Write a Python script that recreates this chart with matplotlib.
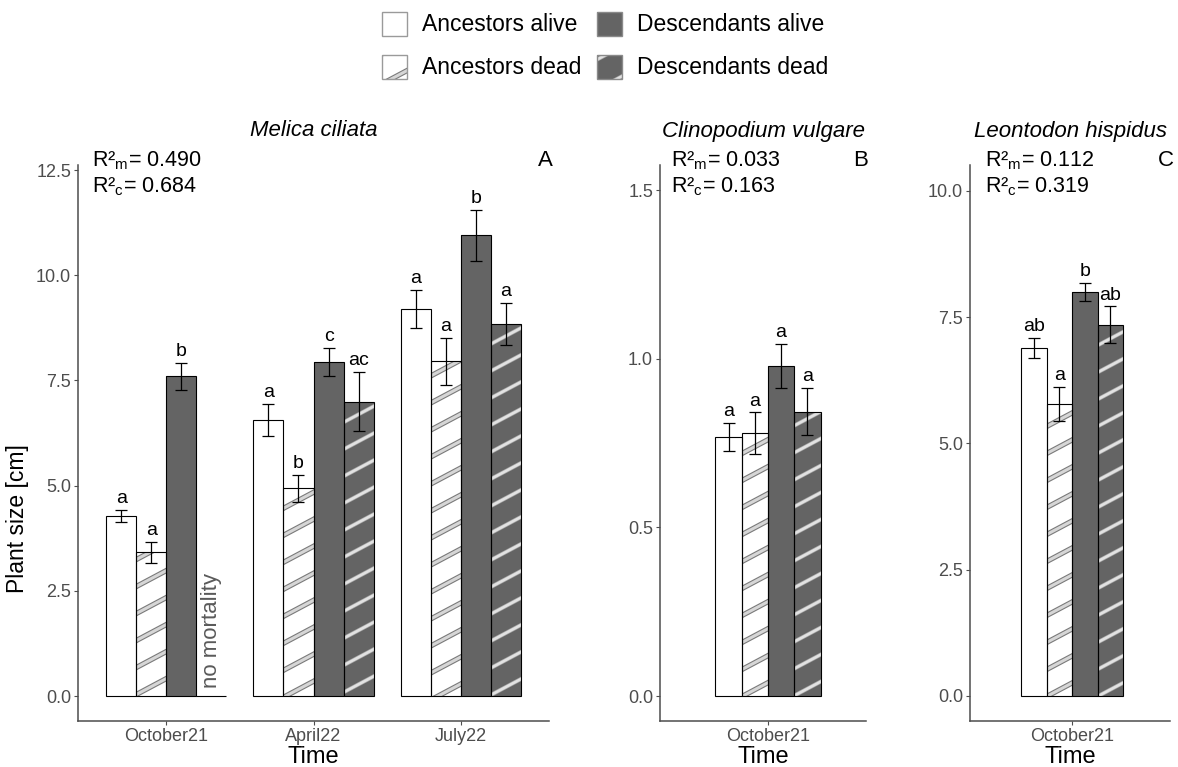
import numpy as np
import matplotlib
matplotlib.use("Agg")
import matplotlib.pyplot as plt
from matplotlib.patches import Rectangle
from matplotlib.lines import Line2D

plt.rcParams['font.family'] = ['Liberation Sans', 'DejaVu Sans']
plt.rcParams['mathtext.fontset'] = 'custom'
plt.rcParams['mathtext.rm'] = 'Liberation Sans'
plt.rcParams['mathtext.it'] = 'Liberation Sans:italic'

# ---------------- data ----------------
groups = ["Ancestors alive", "Ancestors dead", "Descendants alive", "Descendants dead"]

melica_times = ["October21", "April22", "July22"]
melica_mean = [[4.28, 3.42, 7.60, 0.0],
               [6.56, 4.94, 7.94, 6.99],
               [9.20, 7.95, 10.95, 8.84]]
melica_se = [[0.14, 0.25, 0.32, 0.0],
             [0.39, 0.32, 0.34, 0.70],
             [0.45, 0.57, 0.60, 0.50]]
melica_letters = [["a", "a", "b", ""],
                  ["a", "b", "c", "ac"],
                  ["a", "a", "b", "a"]]

clino_times = ["October21"]
clino_mean = [[0.769, 0.780, 0.979, 0.843]]
clino_se = [[0.042, 0.061, 0.065, 0.070]]
clino_letters = [["a", "a", "a", "a"]]

leon_times = ["October21"]
leon_mean = [[6.89, 5.78, 8.00, 7.35]]
leon_se = [[0.20, 0.33, 0.18, 0.36]]
leon_letters = [["ab", "a", "b", "ab"]]

melica_ticks = [0.0, 2.5, 5.0, 7.5, 10.0, 12.5]
clino_ticks = [0.0, 0.5, 1.0, 1.5]
leon_ticks = [0.0, 2.5, 5.0, 7.5, 10.0]

r2 = {"A": ("0.490", "0.684"), "B": ("0.033", "0.163"), "C": ("0.112", "0.319")}

# ---------------- styles ----------------
W, H = 1178, 767
fills = ["#ffffff", "#ffffff", "#646464", "#646464"]
hatched = [False, True, False, True]
AX_COL = "#4d4d4d"

fig = plt.figure(figsize=(W / 100, H / 100), dpi=100)


def rect(l, r, t, b):
    return [l / W, 1 - b / H, (r - l) / W, (b - t) / H]


def add_stripes(ax, patch, dark, spacing=27.0, angle=28.0):
    trans = ax.transData
    x0, y0 = patch.get_x(), patch.get_y()
    x1, y1 = x0 + patch.get_width(), y0 + patch.get_height()
    (X0, Y0), (X1, Y1) = trans.transform([(x0, y0), (x1, y1)])
    Xa, Xb = sorted([X0, X1])
    Ya, Yb = sorted([Y0, Y1])
    if Yb - Ya < 0.5:
        return
    t = np.tan(np.radians(angle))
    cmin, cmax = Ya - t * Xb, Yb - t * Xa
    ks = np.arange(np.floor(cmin / spacing) - 1, np.ceil(cmax / spacing) + 2)
    inv = trans.inverted()
    if dark:
        styles = [(2.9, "#a8a8a8"), (1.9, "#e2e2e2")]
    else:
        styles = [(3.8, "#7a7a7a"), (2.2, "#d6d6d6")]
    for k in ks:
        c = k * spacing
        P = inv.transform([(Xa - 6, t * (Xa - 6) + c), (Xb + 6, t * (Xb + 6) + c)])
        for lw, col in styles:
            ln = Line2D(P[:, 0], P[:, 1], color=col, lw=lw,
                        solid_capstyle="butt", zorder=2.5)
            ax.add_line(ln)
            ln.set_clip_path(patch)


def panel(axpos, times, means, ses, letters, xlim, bw, ylim, yticks):
    ax = fig.add_axes(axpos)
    ax.set_xlim(*xlim)
    ax.set_ylim(*ylim)
    for s in ["top", "right"]:
        ax.spines[s].set_visible(False)
    for s in ["left", "bottom"]:
        ax.spines[s].set_color(AX_COL)
        ax.spines[s].set_linewidth(1.1)
    ax.set_yticks(yticks)
    ax.set_yticklabels([f"{v:.1f}" for v in yticks])
    centers = np.arange(1, len(times) + 1)
    ax.set_xticks(centers)
    ax.set_xticklabels(times)
    ax.tick_params(axis="both", colors=AX_COL, labelcolor=AX_COL, labelsize=13,
                   length=3, width=0.8, pad=2)
    ax.set_xlabel("Time", fontsize=17, color="black", labelpad=1)
    for j in range(4):
        xs = centers + (j - 1.5) * bw
        vals = [m[j] for m in means]
        errs = [s[j] for s in ses]
        bars = ax.bar(xs, vals, width=bw, color=fills[j], edgecolor="none", zorder=2)
        ax.bar(xs, vals, width=bw, color="none", edgecolor="black",
               linewidth=0.8, zorder=3)
        if hatched[j]:
            for p in bars.patches:
                add_stripes(ax, p, dark=(fills[j] != "#ffffff"))
        for x, v, e, lab in zip(xs, vals, errs, [l[j] for l in letters]):
            if e > 0:
                ax.errorbar([x], [v], yerr=[e], fmt="none", ecolor="black",
                            elinewidth=0.9, capsize=4.3, capthick=0.9, zorder=4)
            if lab:
                ax.annotate(lab, (x, v + e), xytext=(0, 5), textcoords="offset points",
                            ha="center", va="baseline", fontsize=14, color="black")
    return ax


axA = panel(rect(78, 549, 165, 721), melica_times, melica_mean, melica_se,
            melica_letters, (0.4, 3.6), 0.204, (-0.594, 12.62), melica_ticks)
axB = panel(rect(660, 866, 165, 721), clino_times, clino_mean, clino_se,
            clino_letters, (0.371, 1.571), 0.153, (-0.074, 1.575), clino_ticks)
axC = panel(rect(970, 1170, 165, 721), leon_times, leon_mean, leon_se,
            leon_letters, (0.388, 1.588), 0.153, (-0.495, 10.51), leon_ticks)

# no mortality note (empty slot of group 1, Descendants dead)
axA.text(1 + 1.5 * 0.204, 0.2, "no mortality", rotation=90, ha="center",
         va="bottom", fontsize=16, color="#5a5a5a")

# ---------------- overlay in pixel coordinates ----------------
ov = fig.add_axes([0, 0, 1, 1], facecolor="none")
ov.set_xlim(0, W)
ov.set_ylim(H, 0)
ov.axis("off")

ov.text(18, 519, "Plant size [cm]", rotation=90, ha="center", va="center",
        fontsize=16.5, color="black")

titles = [("Melica ciliata", 313.5), ("Clinopodium vulgare", 763), ("Leontodon hispidus", 1070)]
for t, x in titles:
    ov.text(x, 131, t, ha="center", va="center", fontsize=16, style="italic")

r2pos = {"A": (92, 545), "B": (671, 861), "C": (985, 1166)}
for key, (xl, xk) in r2pos.items():
    m, c = r2[key]
    ov.text(xl, 166, r"R²$_{\mathregular{m}}$= " + m, ha="left", va="baseline", fontsize=15.5)
    ov.text(xl, 192, r"R²$_{\mathregular{c}}$= " + c, ha="left", va="baseline", fontsize=15.5)
    ov.text(xk, 166, key, ha="center", va="baseline", fontsize=16)

# legend
key_pos = [(382, 12), (382, 55), (597, 12), (597, 55)]
for j, (kx, ky) in enumerate(key_pos):
    edge = "#9a9a9a" if fills[j] == "#ffffff" else "#8a8a8a"
    bg = Rectangle((kx, ky), 25, 24, facecolor=fills[j], edgecolor="none", zorder=2)
    ov.add_patch(bg)
    if hatched[j]:
        add_stripes(ov, bg, dark=(fills[j] != "#ffffff"), spacing=30)
    ov.add_patch(Rectangle((kx, ky), 25, 24, facecolor="none", edgecolor=edge,
                           lw=1.0, zorder=3))
    ov.text(kx + 40, ky + 12.5, groups[j], ha="left", va="center", fontsize=16.5)

fig.savefig("out.png", dpi=100)
